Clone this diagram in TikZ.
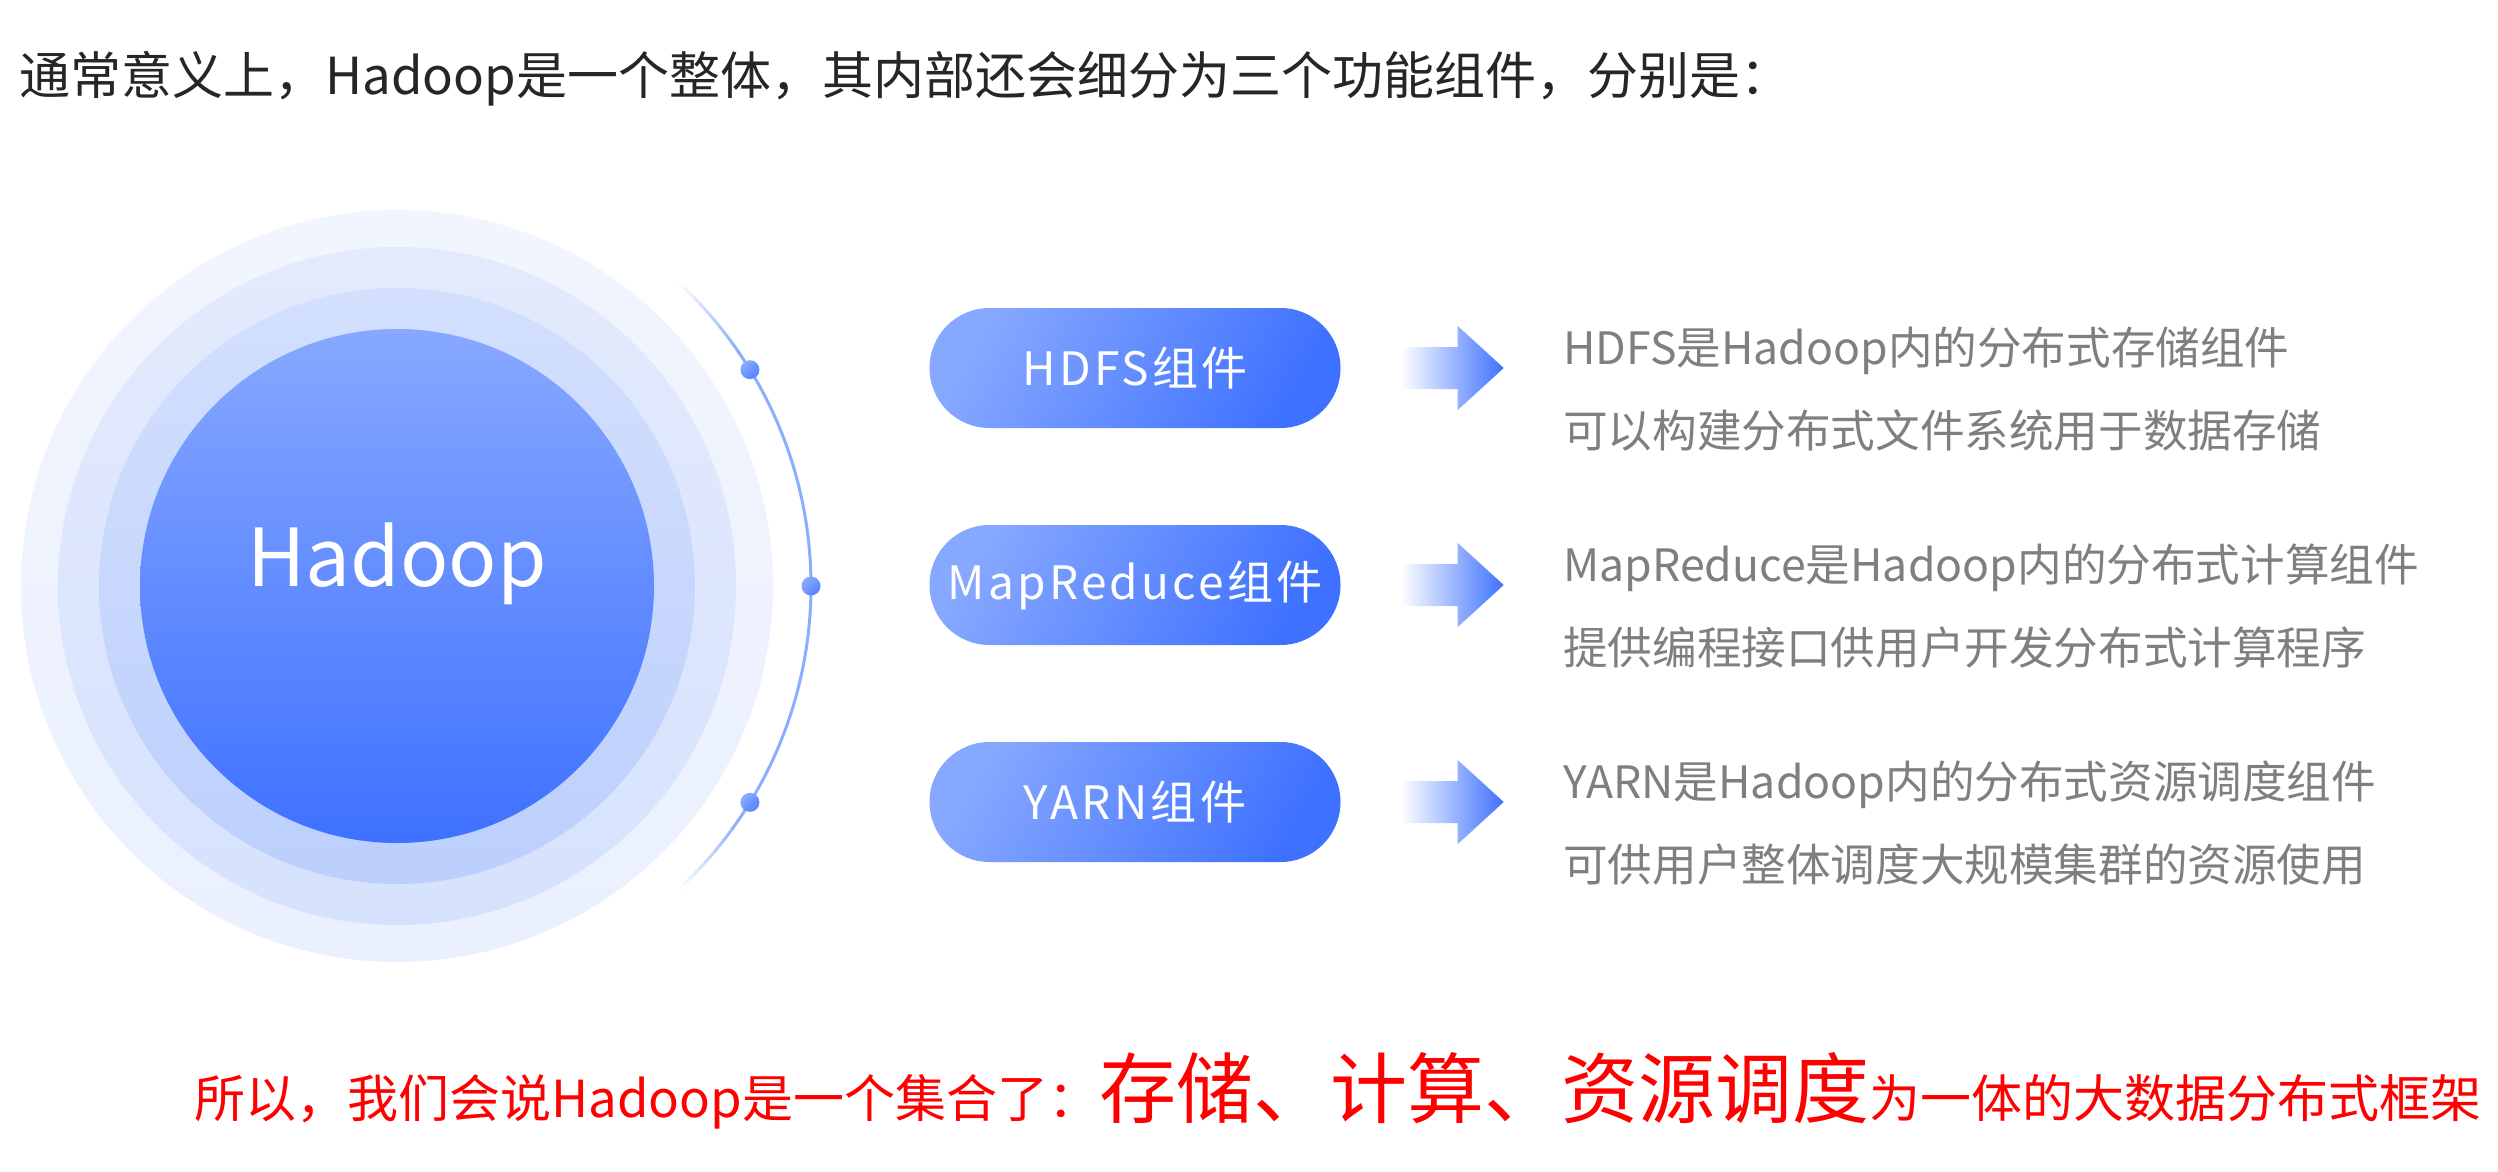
\documentclass[tikz,border=0pt]{standalone}
\usepackage{fontspec}
\setmainfont{Noto Sans CJK SC}
\newfontfamily\pillfont[LetterSpace=7]{Noto Sans CJK SC}
\usetikzlibrary{shapes.misc,calc}
\definecolor{ringA}{HTML}{F1F5FE}
\definecolor{ringAd}{HTML}{EAF0FE}
\definecolor{ringB}{HTML}{E3EAFD}
\definecolor{ringBd}{HTML}{D6E2FD}
\definecolor{ringC}{HTML}{D3DFFD}
\definecolor{ringCd}{HTML}{BCCFFD}
\definecolor{coreL}{HTML}{87A8FF}
\definecolor{coreD}{HTML}{3E71FF}
\definecolor{arccol}{HTML}{8CAEFF}
\definecolor{dotL}{HTML}{8AABFF}
\definecolor{dotD}{HTML}{5582FF}
\definecolor{graytxt}{HTML}{7F7F7F}
\definecolor{toptxt}{HTML}{262626}
\definecolor{redtxt}{HTML}{FF0000}
\tikzset{
  ring/.style={circle, inner sep=0pt, shading=axis, shading angle=45},
  pill/.style={rounded rectangle, minimum width=411pt, minimum height=120pt, inner sep=0pt,
    shading=axis, top color=coreL, bottom color=coreD, shading angle=60,
    text=white, font=\pillfont\fontsize{46pt}{52pt}\selectfont},
  desc/.style={anchor=base west, inner sep=0pt, text=graytxt, font=\fontsize{44.6pt}{52pt}\selectfont},
  dot/.style={circle, inner sep=0pt, minimum size=19pt, shading=axis, top color=dotL, bottom color=dotD, shading angle=45},
  fatarrow/.style={shading=axis, left color=white, right color=coreD}
}
\begin{document}
\begin{tikzpicture}[x=1pt,y=-1pt]
\useasboundingbox[fill=white] (0,0) rectangle (2498,1172);

% title
\node[anchor=base west, inner sep=0pt, text=toptxt, font=\fontsize{51pt}{60pt}\selectfont] (title) at (19,95)
  {通常意义上，Hadoop是一个整体，其内部还会细分为三个功能组件，分别是：};

% concentric circles
\coordinate (c) at (397,586);
\node[ring, minimum size=752pt, top color=ringA, bottom color=ringAd] (r1) at (c) {};
\node[ring, minimum size=678pt, top color=ringB, bottom color=ringBd] (r2) at (c) {};
\node[ring, minimum size=596pt, top color=ringC, bottom color=ringCd] (r3) at (c) {};
\node[ring, minimum size=514pt, top color=coreL, bottom color=coreD] (core) at (c) {};
\node[anchor=base, inner sep=0pt, text=white, font=\fontsize{80pt}{90pt}\selectfont] (hadoop) at (c) {Hadoop};

% arc with fading ends
\draw[arccol, line width=3pt] ($(c)+(-35:414)$) arc[start angle=-35, end angle=35, radius=414];
\foreach \k in {0,...,11}{
  \pgfmathsetmacro\op{1-(\k+0.5)/12}
  \draw[arccol, line width=3pt, opacity=\op] ($(c)+(35+\k:414)$) arc[start angle=35+\k, end angle=36+\k, radius=414];
  \draw[arccol, line width=3pt, opacity=\op] ($(c)+(-35-\k:414)$) arc[start angle=-35-\k, end angle=-36-\k, radius=414];
}
\node[dot] (d1) at ($(c)+(-31.5:414)$) {};
\node[dot] (d2) at ($(c)+(0:414)$) {};
\node[dot] (d3) at ($(c)+(31.5:414)$) {};

% pills
\node[pill] (hdfs) at (1135,368) {HDFS组件};
\node[pill] (mr) at (1135,585) {MapReduce组件};
\node[pill] (yarn) at (1135,802) {YARN组件};

% arrows
\foreach \n in {hdfs,mr,yarn}{
  \coordinate (a\n) at ($(\n.east)+(60,0)$);
  \shade[fatarrow] (a\n) ++(0,-21) -- ++(57,0) -- ++(0,-21) -- ++(46,42) -- ++(-46,42) -- ++(0,-21) -- ++(-57,0) -- cycle;
}

% descriptions
\node[desc] (t1a) at (1563,364) {HDFS是Hadoop内的分布式存储组件};
\node[desc] (t1b) at (1563,447) {可以构建分布式文件系统用于数据存储};
\node[desc] (t2a) at (1563,581) {MapReduce是Hadoop内的分布式计算组件};
\node[desc] (t2b) at (1563,664) {提供编程接口供用户开发分布式计算程序};
\node[desc] (t3a) at (1563,798) {YARN是Hadoop内的分布式资源调度组件};
\node[desc] (t3b) at (1563,881) {可供用户整体调度大规模集群的资源使用};

% conclusion
\node[anchor=base west, inner sep=0pt, text=redtxt] (concl) at (194,1117)
  {\fontsize{51pt}{60pt}\selectfont 所以，我们会说Hadoop是一个集合了：\fontsize{77pt}{85pt}\selectfont 存储、计算、资源调度\fontsize{51pt}{60pt}\selectfont 为一体的大数据分布式框架};
\end{tikzpicture}
\end{document}
